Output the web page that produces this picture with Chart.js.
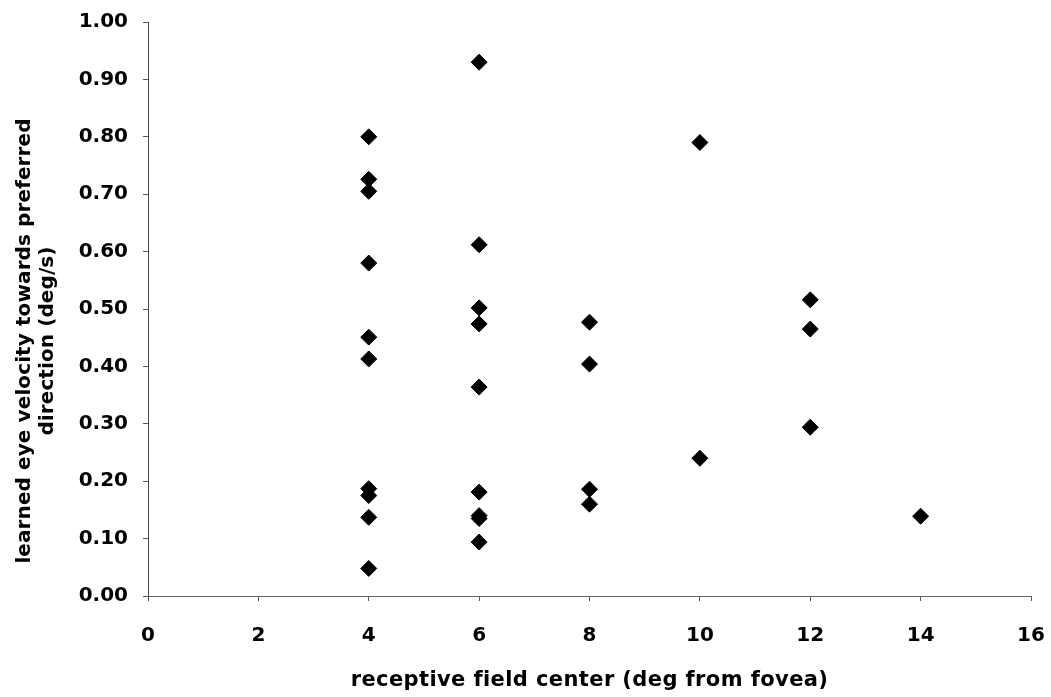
<!DOCTYPE html>
<html>
<head>
<meta charset="utf-8">
<script src="https://cdn.jsdelivr.net/npm/chart.js@4"></script>
<style>
  html, body { margin: 0; padding: 0; background: #fff; }
  #wrap { width: 1051px; height: 697px; position: relative; }
</style>
</head>
<body>
<div id="wrap"><canvas id="grafico"></canvas></div>
<script>
// posição do campo receptivo (graus) e velocidade aprendida (deg/s)
const campo4 = [0.80, 0.726, 0.705, 0.58, 0.451, 0.413, 0.187, 0.175, 0.137, 0.048];
const campo6 = [0.93, 0.612, 0.502, 0.474, 0.364, 0.181, 0.140, 0.135, 0.094];
const campo8 = [0.477, 0.404, 0.186, 0.160];
const campo10 = [0.79, 0.240];
const campo12 = [0.516, 0.465, 0.294];
const campo14 = [0.139];

const posicoes = [4, 6, 8, 10, 12, 14];
const valores = [campo4, campo6, campo8, campo10, campo12, campo14];

const ticksX = [0, 2, 4, 6, 8, 10, 12, 14, 16];
const ticksY = [0, 0.1, 0.2, 0.3, 0.4, 0.5, 0.6, 0.7, 0.8, 0.9, 1.0];

const tituloX = 'receptive field center (deg from fovea)';
const tituloY = ['learned eye velocity towards preferred', 'direction (deg/s)'];

// monta os pontos (x, y) a partir das listas
const pontos = [];
posicoes.forEach((p, i) => {
    valores[i].forEach(v => pontos.push({ x: p, y: v }));
});

const familia = 'DejaVu Sans, Liberation Sans, Arial, sans-serif';
const fonte = { family: familia, size: 20, weight: 'bold' };

// títulos dos eixos desenhados à mão (o do y tem duas linhas)
const titulos = {
    id: 'titulos',
    afterDraw(chart) {
        const ctx = chart.ctx;
        const area = chart.chartArea;
        ctx.save();
        ctx.fillStyle = '#000';
        ctx.font = 'bold 21px ' + familia;
        ctx.textAlign = 'center';
        ctx.textBaseline = 'middle';
        ctx.letterSpacing = '0.4px';
        ctx.fillText(tituloX, (area.left + area.right) / 2, 681);

        ctx.translate(0, 341);
        ctx.rotate(-Math.PI / 2);
        ctx.font = 'bold 20px ' + familia;
        ctx.letterSpacing = '0.1px';
        ctx.fillText(tituloY[0], 0, 25);
        ctx.fillText(tituloY[1], 0, 48);
        ctx.restore();
        ctx.letterSpacing = '0px';
    }
};

new Chart(document.getElementById('grafico'), {
    type: 'scatter',
    data: {
        datasets: [{
            label: 'velocidade',
            data: pontos,
            pointStyle: 'rectRot',
            pointRadius: 8,
            pointBorderWidth: 1,
            pointBackgroundColor: '#000',
            pointBorderColor: '#000'
        }]
    },
    options: {
        responsive: true,
        maintainAspectRatio: false,
        animation: false,
        layout: { padding: { left: 0, top: 22, right: 20, bottom: 0 } },
        plugins: {
            legend: { display: false },
            tooltip: { enabled: false }
        },
        scales: {
            x: {
                type: 'linear',
                min: 0,
                max: 16,
                afterFit: s => { s.height = 101; s.paddingLeft = 0; s.paddingRight = 0; },
                afterBuildTicks: s => { s.ticks = ticksX.map(v => ({ value: v })); },
                ticks: {
                    font: fonte,
                    color: '#000',
                    padding: 23,
                    maxRotation: 0,
                    callback: v => String(v)
                },
                grid: {
                    drawOnChartArea: false,
                    drawTicks: true,
                    tickLength: 5,
                    color: '#555'
                },
                border: { color: '#666', width: 1 }
            },
            y: {
                type: 'linear',
                min: 0,
                max: 1,
                afterFit: s => { s.width = 148; s.paddingTop = 0; s.paddingBottom = 0; },
                afterBuildTicks: s => { s.ticks = ticksY.map(v => ({ value: v })); },
                ticks: {
                    font: fonte,
                    color: '#000',
                    padding: 15,
                    callback: v => v.toFixed(2)
                },
                grid: {
                    drawOnChartArea: false,
                    drawTicks: true,
                    tickLength: 5,
                    color: '#555'
                },
                border: { color: '#444', width: 1 }
            }
        }
    },
    plugins: [titulos]
});
</script>
</body>
</html>
